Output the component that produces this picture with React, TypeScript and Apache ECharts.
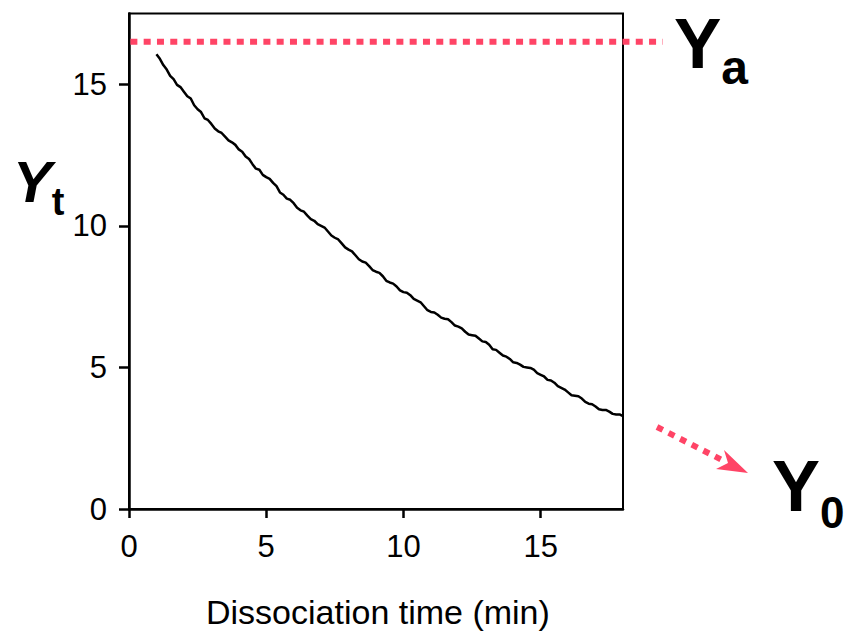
import React, { useEffect, useRef } from "react";
import * as echarts from "echarts";

const timeMin = [
  1.0, 1.125, 1.25, 1.375, 1.5, 1.625, 1.75, 1.875, 2.0, 2.125, 2.25, 2.375, 2.5, 2.625, 2.75, 2.875,
  3.0, 3.125, 3.25, 3.375, 3.5, 3.625, 3.75, 3.875, 4.0, 4.125, 4.25, 4.375, 4.5, 4.625, 4.75, 4.875,
  5.0, 5.125, 5.25, 5.375, 5.5, 5.625, 5.75, 5.875, 6.0, 6.125, 6.25, 6.375, 6.5, 6.625, 6.75, 6.875,
  7.0, 7.125, 7.25, 7.375, 7.5, 7.625, 7.75, 7.875, 8.0, 8.125, 8.25, 8.375, 8.5, 8.625, 8.75, 8.875,
  9.0, 9.125, 9.25, 9.375, 9.5, 9.625, 9.75, 9.875, 10.0, 10.125, 10.25, 10.375, 10.5, 10.625, 10.75, 10.875,
  11.0, 11.125, 11.25, 11.375, 11.5, 11.625, 11.75, 11.875, 12.0, 12.125, 12.25, 12.375, 12.5, 12.625, 12.75, 12.875,
  13.0, 13.125, 13.25, 13.375, 13.5, 13.625, 13.75, 13.875, 14.0, 14.125, 14.25, 14.375, 14.5, 14.625, 14.75, 14.875,
  15.0, 15.125, 15.25, 15.375, 15.5, 15.625, 15.75, 15.875, 16.0, 16.125, 16.25, 16.375, 16.5, 16.625, 16.75, 16.875,
  17.0, 17.125, 17.25, 17.375, 17.5, 17.625, 17.75, 17.875, 18.0,
];
const yt = [
  16.06, 15.9, 15.68, 15.52, 15.3, 15.18, 14.98, 14.9, 14.74, 14.58, 14.5, 14.26, 14.12, 14.02, 13.8, 13.74,
  13.6, 13.44, 13.34, 13.28, 13.15, 13.02, 12.95, 12.86, 12.7, 12.62, 12.45, 12.36, 12.18, 12.02, 11.98, 11.8,
  11.72, 11.66, 11.52, 11.4, 11.18, 11.1, 10.96, 10.92, 10.8, 10.64, 10.55, 10.5, 10.36, 10.24, 10.18, 10.06,
  10.0, 9.94, 9.8, 9.66, 9.58, 9.52, 9.38, 9.24, 9.16, 9.1, 8.96, 8.82, 8.74, 8.7, 8.58, 8.44,
  8.38, 8.34, 8.22, 8.06, 8.0, 7.96, 7.86, 7.72, 7.66, 7.64, 7.55, 7.42, 7.36, 7.3, 7.16, 7.02,
  6.96, 6.94, 6.86, 6.76, 6.72, 6.7, 6.6, 6.48, 6.44, 6.38, 6.26, 6.16, 6.14, 6.12, 6.02, 5.92,
  5.9, 5.8, 5.64, 5.62, 5.52, 5.42, 5.38, 5.3, 5.18, 5.16, 5.1, 5.02, 5.0, 4.98, 4.92, 4.8,
  4.74, 4.68, 4.56, 4.54, 4.46, 4.34, 4.28, 4.22, 4.12, 4.02, 4.0, 3.98, 3.9, 3.78, 3.72, 3.7,
  3.62, 3.52, 3.5, 3.5, 3.44, 3.36, 3.34, 3.34, 3.28,
];
const yaLevel = 16.5;
const yaLineX = [0.05, 19.45];
const xTicks = [0, 5, 10, 15];
const yTicks = [0, 5, 10, 15];
const xTitle = "Dissociation time (min)";

const PINK = "#ff4466";
const FONT = "'Liberation Sans', Arial, sans-serif";

export default function App() {
  const ref = useRef<HTMLDivElement>(null);
  useEffect(() => {
    if (!ref.current) return;
    const chart = echarts.init(ref.current, null, { renderer: "svg" });
    const curve = timeMin.map((t, i) => [t, yt[i]]);
    chart.setOption({
      animation: false,
      backgroundColor: "#fff",
      grid: {
        left: 129,
        right: 222,
        top: 13.5,
        bottom: 123,
        show: true,
        borderColor: "#000",
        borderWidth: 2,
        backgroundColor: "transparent",
      },
      xAxis: {
        type: "value",
        min: 0,
        max: 18,
        interval: 5,
        splitLine: { show: false },
        axisLine: { show: true, lineStyle: { color: "#000", width: 2.5 } },
        axisTick: { show: true, inside: false, length: 9, customValues: xTicks, lineStyle: { color: "#000", width: 2.5 } },
        axisLabel: { customValues: xTicks, margin: 22, color: "#000", fontSize: 31, fontFamily: FONT },
      },
      yAxis: {
        type: "value",
        min: 0,
        max: 17.5,
        interval: 5,
        splitLine: { show: false },
        axisLine: { show: true, lineStyle: { color: "#000", width: 2.5 } },
        axisTick: { show: true, inside: false, length: 10, customValues: yTicks, lineStyle: { color: "#000", width: 2.5 } },
        axisLabel: { customValues: yTicks, margin: 22, color: "#000", fontSize: 31, fontFamily: FONT },
      },
      series: [
        {
          type: "line",
          data: curve,
          showSymbol: false,
          lineStyle: { color: "#000", width: 2.5 },
          z: 4,
        },
      ],
    });
    const p0 = chart.convertToPixel({ gridIndex: 0 }, [yaLineX[0], yaLevel]) as number[];
    const p1 = chart.convertToPixel({ gridIndex: 0 }, [yaLineX[1], yaLevel]) as number[];
    chart.setOption({
      graphic: [
        {
          type: "line",
          shape: { x1: p0[0], y1: p0[1], x2: p1[0], y2: p1[1] },
          style: { stroke: PINK, lineWidth: 6, lineDash: [7, 6.3], lineCap: "butt" },
          z: 3,
        },
        {
          type: "text",
          x: 206,
          y: 612,
          style: { text: xTitle, font: `34px ${FONT}`, fill: "#000", textAlign: "left", textVerticalAlign: "middle" },
        },
        {
          type: "text",
          x: 13,
          y: 181,
          style: {
            text: "{Y|Y}{s|t}",
            fill: "#000",
            textAlign: "left",
            textVerticalAlign: "middle",
            rich: {
              Y: { font: `italic bold 58px ${FONT}`, lineHeight: 80, verticalAlign: "middle", fill: "#000" },
              s: { font: `bold 38px ${FONT}`, lineHeight: 38, verticalAlign: "bottom", fill: "#000" },
            },
          },
        },
        {
          type: "text",
          x: 674,
          y: 43,
          style: {
            text: "{Y|Y}{s|a}",
            fill: "#000",
            textAlign: "left",
            textVerticalAlign: "middle",
            rich: {
              Y: { font: `bold 71px ${FONT}`, lineHeight: 96, verticalAlign: "middle", fill: "#000" },
              s: { font: `bold 48px ${FONT}`, lineHeight: 48, verticalAlign: "bottom", fill: "#000" },
            },
          },
        },
        {
          type: "text",
          x: 772,
          y: 486,
          style: {
            text: "{Y|Y}{s|0}",
            fill: "#000",
            textAlign: "left",
            textVerticalAlign: "middle",
            rich: {
              Y: { font: `bold 72px ${FONT}`, lineHeight: 96, verticalAlign: "middle", fill: "#000" },
              s: { font: `bold 44px ${FONT}`, lineHeight: 44, verticalAlign: "bottom", fill: "#000" },
            },
          },
        },
        {
          type: "line",
          shape: { x1: 657, y1: 427, x2: 724, y2: 461 },
          style: { stroke: PINK, lineWidth: 6, lineDash: [6.5, 6.5], lineCap: "butt" },
        },
        {
          type: "polygon",
          shape: { points: [[748, 473], [724, 450], [728, 463], [716, 469]] },
          style: { fill: PINK },
        },
      ],
    });
    return () => chart.dispose();
  }, []);
  return <div ref={ref} style={{ position: "fixed", left: 0, top: 0, width: 845, height: 632 }} />;
}
